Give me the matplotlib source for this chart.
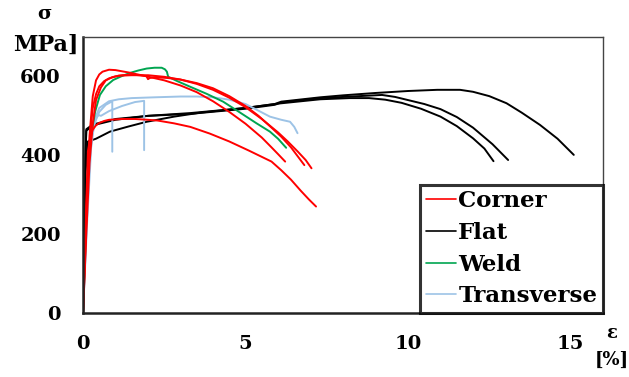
import matplotlib
matplotlib.use("Agg")
import matplotlib.pyplot as plt

# ---- data (strain %, stress MPa) ----
corner1_x = [0, 0.06, 0.12, 0.2, 0.3, 0.4, 0.5, 0.6, 0.8, 1.0, 1.4, 1.8, 2.5, 3.0, 3.5, 4.0, 4.5, 5.0, 5.5, 5.8, 6.0, 6.22]
corner1_y = [0, 160, 300, 450, 550, 590, 605, 612, 617, 616, 610, 603, 590, 577, 560, 537, 510, 480, 445, 420, 403, 384]
corner2_x = [0, 0.08, 0.15, 0.25, 0.3, 0.4, 0.5, 0.65, 0.8, 1.0, 1.2, 1.6, 1.95, 2.0, 2.05, 2.2, 2.6, 3.0, 3.5, 4.0, 4.5, 5.0, 5.4, 5.8, 6.1, 6.4, 6.6, 6.81]
corner2_y = [0, 180, 350, 480, 520, 555, 575, 588, 595, 600, 603, 604, 601, 593, 596, 598, 596, 592, 583, 570, 550, 525, 500, 470, 447, 420, 398, 375]
corner3_x = [0, 0.1, 0.2, 0.3, 0.4, 0.55, 0.7, 0.9, 1.1, 1.5, 2.0, 2.5, 3.0, 3.5, 4.0, 4.5, 5.0, 5.5, 6.0, 6.3, 6.6, 6.85, 7.03]
corner3_y = [0, 200, 380, 480, 540, 572, 590, 598, 602, 603, 603, 599, 592, 581, 566, 546, 522, 492, 458, 435, 410, 388, 367]
corner4_x = [0, 0.08, 0.15, 0.22, 0.3, 0.4, 0.5, 0.65, 0.8, 1.2, 1.6, 2.0, 2.3, 2.8, 3.3, 3.9, 4.5, 5.1, 5.6, 5.8, 6.1, 6.4, 6.7, 6.95, 7.17]
corner4_y = [0, 220, 410, 445, 465, 476, 482, 487, 490, 492, 492, 490, 488, 481, 472, 455, 435, 412, 392, 384, 362, 338, 310, 288, 270]

flat1_x = [0, 0.03, 0.06, 0.1, 0.3, 1.0, 2.0, 3.3, 5.0, 5.9, 6.1, 7.3, 8.0, 9.0, 10.0, 10.9, 11.6, 12.0, 12.5, 13.03, 13.5, 14.06, 14.6, 15.1]
flat1_y = [0, 180, 350, 462, 476, 490, 500, 507, 520, 530, 536, 547, 552, 558, 563, 566, 566, 561, 550, 532, 508, 477, 442, 401]
flat2_x = [0, 0.03, 0.06, 0.1, 0.3, 1.0, 2.0, 3.3, 5.0, 5.9, 6.1, 7.3, 8.5, 9.2, 9.6, 10.0, 10.5, 11.0, 11.5, 12.0, 12.6, 13.08]
flat2_y = [0, 180, 350, 466, 478, 492, 500, 505, 518, 528, 534, 545, 550, 553, 548, 540, 530, 517, 497, 470, 428, 388]
flat3_x = [0, 0.03, 0.08, 0.15, 0.4, 0.83, 1.4, 1.96, 2.8, 3.6, 5.0, 6.0, 7.3, 8.2, 8.8, 9.3, 9.8, 10.4, 11.0, 11.5, 12.0, 12.35, 12.63]
flat3_y = [0, 170, 360, 435, 442, 460, 473, 485, 498, 508, 520, 531, 542, 545, 545, 541, 533, 518, 498, 474, 443, 417, 385]

weld_x = [0, 0.08, 0.15, 0.25, 0.37, 0.52, 0.7, 0.93, 1.2, 1.45, 1.7, 1.96, 2.2, 2.42, 2.52, 2.58, 2.62, 2.9, 3.29, 3.8, 4.31, 4.8, 5.34, 5.75, 6.0, 6.25]
weld_y = [0, 190, 350, 450, 510, 553, 575, 591, 601, 609, 615, 620, 622, 622, 618, 612, 599, 588, 574, 556, 536, 510, 481, 460, 442, 419]

trans1_x = [0, 0.1, 0.2, 0.28, 0.35, 0.5, 0.7, 0.9, 0.9]
trans1_y = [0, 200, 380, 450, 480, 510, 528, 537, 409]
trans2_x = [0, 0.12, 0.25, 0.33, 0.4, 0.48, 0.55, 0.8, 1.2, 1.6, 1.88, 1.88]
trans2_y = [0, 220, 420, 470, 495, 502, 500, 512, 525, 535, 538, 413]
trans3_x = [0, 0.1, 0.2, 0.28, 0.35, 0.5, 0.8, 1.1, 1.5, 2.2, 3.0, 3.5, 4.0, 4.5, 5.0, 5.4, 5.75, 6.1, 6.37, 6.5, 6.6]
trans3_y = [0, 210, 400, 460, 490, 520, 537, 542, 545, 547, 549, 549, 547, 541, 530, 513, 498, 490, 485, 472, 456]

series = [
    ("Corner", "#ff0000", [(corner1_x, corner1_y), (corner2_x, corner2_y),
                            (corner3_x, corner3_y), (corner4_x, corner4_y)]),
    ("Flat", "#000000", [(flat1_x, flat1_y), (flat2_x, flat2_y), (flat3_x, flat3_y)]),
    ("Weld", "#00a550", [(weld_x, weld_y)]),
    ("Transverse", "#9dc3e6", [(trans1_x, trans1_y), (trans2_x, trans2_y), (trans3_x, trans3_y)]),
]

xticks = [0, 5, 10, 15]
yticks = [0, 200, 400, 600]

font = "DejaVu Serif"
plt.rcParams["font.family"] = font
plt.rcParams["font.weight"] = "bold"

fig = plt.figure(figsize=(6.29, 3.77), dpi=100)
ax = fig.add_axes([0.132, 0.1698, 0.8267, 0.7321])

draw_order = [series[1], series[3], series[2], series[0]]
handles = {}
for name, color, curves in draw_order:
    for i, (xs, ys) in enumerate(curves):
        ln, = ax.plot(xs, ys, color=color, lw=1.4, solid_joinstyle="round",
                      solid_capstyle="round")
        if i == 0:
            handles[name] = ln

ax.set_xlim(0, 16)
ax.set_ylim(0, 700)
ax.set_xticks(xticks)
ax.set_yticks(yticks)
ax.tick_params(length=0, labelsize=14, pad=16)
for lab in ax.get_xticklabels() + ax.get_yticklabels():
    lab.set_fontweight("bold")

for s in ["left", "bottom"]:
    ax.spines[s].set_linewidth(1.8)
    ax.spines[s].set_color("#222222")
for s in ["top", "right"]:
    ax.spines[s].set_linewidth(1.0)
    ax.spines[s].set_color("#444444")

order = ["Corner", "Flat", "Weld", "Transverse"]
leg = ax.legend([handles[n] for n in order], order, loc="lower right",
                borderaxespad=0, prop={"size": 16.5, "weight": "bold"},
                frameon=True, fancybox=False, handlelength=1.3,
                handletextpad=0.1, labelspacing=0.42, borderpad=0.25)
leg.get_frame().set_edgecolor("black")
leg.get_frame().set_linewidth(2.2)
for ln in leg.get_lines():
    ln.set_linewidth(1.2)

fig.text(44 / 629, 1 - 14 / 377, "σ", ha="center", va="center", fontsize=14, fontweight="bold")
fig.text(46 / 629, 1 - 45 / 377, "MPa]", ha="center", va="center", fontsize=16, fontweight="bold")
fig.text(612 / 629, 1 - 333 / 377, "ε", ha="center", va="center", fontsize=13, fontweight="bold")
fig.text(612 / 629, 1 - 360 / 377, "[%]", ha="center", va="center", fontsize=13, fontweight="bold")

fig.savefig("out.png", dpi=100)
